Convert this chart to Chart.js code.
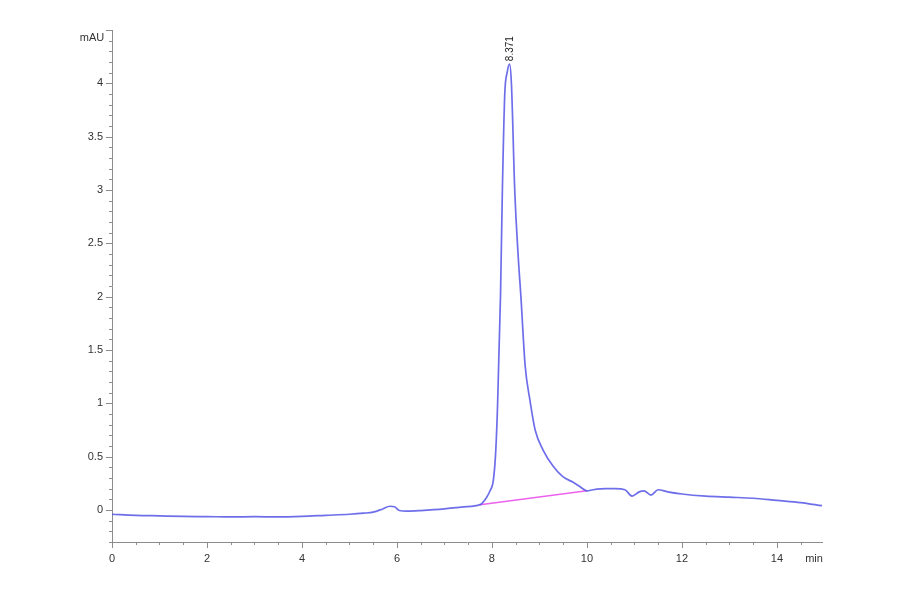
<!DOCTYPE html>
<html>
<head>
<meta charset="utf-8">
<script src="https://cdn.jsdelivr.net/npm/chart.js@4/dist/chart.umd.min.js"></script>
<style>
  html, body { margin: 0; padding: 0; background: #fff; }
  #wrap { width: 900px; height: 594px; }
</style>
</head>
<body>
<div id="wrap"><canvas id="chrom_canvas" width="900" height="594"></canvas></div>
<script>
// retention time (min) and detector signal (mAU)
const times = [0, 0.5, 1.0, 1.5, 2.0, 2.5, 3.0, 3.5, 4.0, 4.5, 5.0, 5.3, 5.5, 5.7, 5.85, 5.95,
    6.05, 6.2, 6.5, 7.0, 7.4, 7.75, 7.89, 7.96, 8.03, 8.08, 8.12, 8.18, 8.22, 8.27, 8.32,
    8.371, 8.41, 8.48, 8.55, 8.61, 8.7, 8.8, 8.91, 9.08, 9.29, 9.5, 9.71, 9.85, 10.0,
    10.13, 10.4, 10.6, 10.8, 10.95, 11.1, 11.2, 11.35, 11.5, 11.7, 12.0, 12.5, 13.0, 13.5,
    14.0, 14.5, 14.95];
const signal = [-0.04, -0.05, -0.055, -0.06, -0.062, -0.065, -0.063, -0.065, -0.06, -0.05,
    -0.04, -0.03, -0.02, 0.01, 0.035, 0.03, -0.005, -0.01, -0.005, 0.01, 0.03, 0.05, 0.12,
    0.18, 0.28, 0.55, 1.0, 2.0, 3.0, 3.9, 4.1, 4.18, 4.0, 3.0, 2.4, 2.0, 1.35, 1.03, 0.75,
    0.56, 0.41, 0.31, 0.26, 0.22, 0.18, 0.19, 0.2, 0.2, 0.19, 0.13, 0.17, 0.18, 0.14,
    0.19, 0.17, 0.15, 0.13, 0.12, 0.11, 0.09, 0.07, 0.04];

// integration baseline under the peak
const baseTimes = [7.75, 10.0];
const baseSignal = [0.05, 0.18];

const peakLabel = "8.371";
const peakTime = 8.371;
const peakHeight = 4.18;

const xTickVals = [0, 2, 4, 6, 8, 10, 12, 14];
const yTickVals = [0, 0.5, 1, 1.5, 2, 2.5, 3, 3.5, 4];

const AXIS_COLOR = '#8c8c8c';
const FONT = 'Liberation Sans, Arial, sans-serif';

// minor/major ticks, unit labels and peak label
const decorPlugin = {
    id: 'decor',
    afterDraw(chart) {
        const c = chart.ctx;
        const xs = chart.scales.x, ys = chart.scales.y;
        const left = xs.left, bottom = ys.bottom;
        c.save();
        c.strokeStyle = AXIS_COLOR;
        c.lineWidth = 1;
        c.beginPath();
        for (let i = Math.ceil(ys.min * 10); i <= Math.floor(ys.max * 10 + 1e-6); i++) {
            const py = Math.round(ys.getPixelForValue(i / 10)) + 0.5;
            const len = (i % 5 === 0) ? 6 : 3;
            c.moveTo(left, py); c.lineTo(left - len, py);
        }
        for (let i = 0; i <= Math.floor(xs.max * 2 + 1e-6); i++) {
            const px = Math.round(xs.getPixelForValue(i / 2)) + 0.5;
            const len = (i % 4 === 0) ? 6 : 3;
            c.moveTo(px, bottom); c.lineTo(px, bottom + len);
        }
        c.stroke();

        c.fillStyle = '#333';
        c.font = '11px ' + FONT;
        c.textAlign = 'center';
        c.textBaseline = 'middle';
        c.fillText('mAU', left - 20, ys.top + 8);
        c.fillText('min', xs.right - 8, bottom + 17);

        // peak label, rotated
        const lx = xs.getPixelForValue(peakTime) + 1;
        const ly = ys.getPixelForValue(peakHeight) - 3;
        c.translate(lx, ly);
        c.rotate(-Math.PI / 2);
        c.textAlign = 'left';
        c.font = '10px ' + FONT;
        c.fillStyle = '#222';
        c.fillText(peakLabel, 0, 0);
        c.restore();
    }
};

const config = {
    type: 'line',
    data: {
        datasets: [{
            label: 'signal',
            data: times.map(function (t, i) { return { x: t, y: signal[i] }; }),
            borderColor: 'rgba(85, 85, 230, 0.85)',
            borderWidth: 1.7,
            pointRadius: 0,
            cubicInterpolationMode: 'monotone',
            fill: false,
        }, {
            label: 'baseline',
            data: baseTimes.map(function (t, i) { return { x: t, y: baseSignal[i] }; }),
            borderColor: 'rgba(235, 90, 235, 0.95)',
            borderWidth: 1.5,
            pointRadius: 0,
            fill: false,
        }]
    },
    options: {
        responsive: false,
        animation: false,
        devicePixelRatio: 1,
        layout: { padding: { left: 0, right: 78, top: 30, bottom: 0 } },
        plugins: {
            legend: { display: false },
            tooltip: { enabled: false },
        },
        scales: {
            x: {
                type: 'linear',
                min: 0,
                max: 14.95,
                afterFit: function (s) { s.height = 52; },
                afterBuildTicks: function (s) { s.ticks = xTickVals.map(function (v) { return { value: v }; }); },
                grid: { display: false, drawTicks: false },
                border: { display: true, color: AXIS_COLOR, width: 1 },
                ticks: {
                    padding: 10,
                    color: '#333',
                    font: { family: FONT, size: 11 },
                    maxRotation: 0,
                    callback: function (v) { return String(v); }
                }
            },
            y: {
                type: 'linear',
                min: -0.3,
                max: 4.5,
                afterFit: function (s) { s.width = 112; },
                afterBuildTicks: function (s) { s.ticks = yTickVals.map(function (v) { return { value: v }; }); },
                grid: { display: false, drawTicks: false },
                border: { display: true, color: AXIS_COLOR, width: 1 },
                ticks: {
                    padding: 9,
                    color: '#333',
                    font: { family: FONT, size: 11 },
                    callback: function (v) { return String(v); }
                }
            }
        }
    },
    plugins: [decorPlugin]
};

var ctx_chrom = document.getElementById('chrom_canvas').getContext('2d');
var chrom_chart = new Chart(ctx_chrom, config);
</script>
</body>
</html>
